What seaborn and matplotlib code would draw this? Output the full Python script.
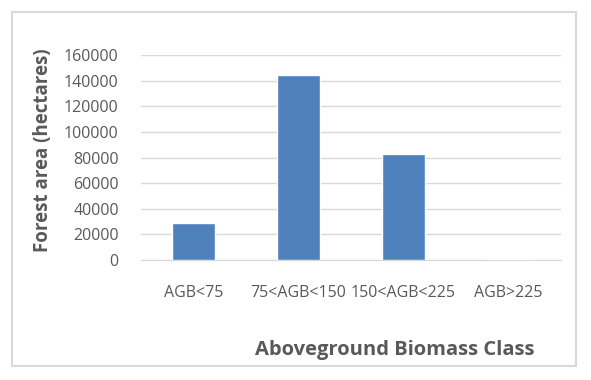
import seaborn as sns
import matplotlib.pyplot as plt
import matplotlib.patches as mpatches
import pandas as pd

# データ
classes = ["AGB<75", "75<AGB<150", "150<AGB<225", "AGB>225"]
area = [28700, 144500, 82700, 1000]

df = pd.DataFrame({"cls": classes, "area": area})

sns.set_style("white")
plt.rcParams["font.family"] = ["Open Sans", "DejaVu Sans"]

W, H = 591, 380
fig = plt.figure(figsize=(W / 100, H / 100), dpi=100)
ax = fig.add_axes([141 / W, (H - 260) / H, 420 / W, 205 / H])

sns.barplot(data=df, x="cls", y="area", color="#4f81bd", width=0.41,
            saturation=1, ax=ax, zorder=3)

ax.set_ylim(0, 160000)
ax.set_yticks(range(0, 160001, 20000))
ax.set_xlim(-0.5, 3.5)
ax.grid(axis="y", color="#d9d9d9", linewidth=1, zorder=0)
for s in ["top", "right", "left"]:
    ax.spines[s].set_visible(False)
ax.spines["bottom"].set_color("#d9d9d9")
ax.tick_params(axis="both", length=0, colors="#595959", labelsize=11.5)
ax.tick_params(axis="x", pad=18)
ax.tick_params(axis="y", pad=16)

ax.set_xlabel("Aboveground Biomass Class", fontsize=14.5, fontweight="bold",
              color="#595959")
ax.xaxis.set_label_coords(254 / 420, -(340 - 260) / 205)
ax.set_ylabel("Forest area (hectares)", fontsize=13.5, fontweight="bold",
              color="#595959")
ax.yaxis.set_label_coords(-(141 - 53) / 420, (260 - 150) / 205)

# 外枠
fig.patches.append(mpatches.Rectangle((12 / W, (H - 366) / H), 564 / W, 354 / H,
                                      transform=fig.transFigure, fill=False,
                                      edgecolor="#d9d9d9", linewidth=1.5))

fig.savefig("out.png", dpi=100)
